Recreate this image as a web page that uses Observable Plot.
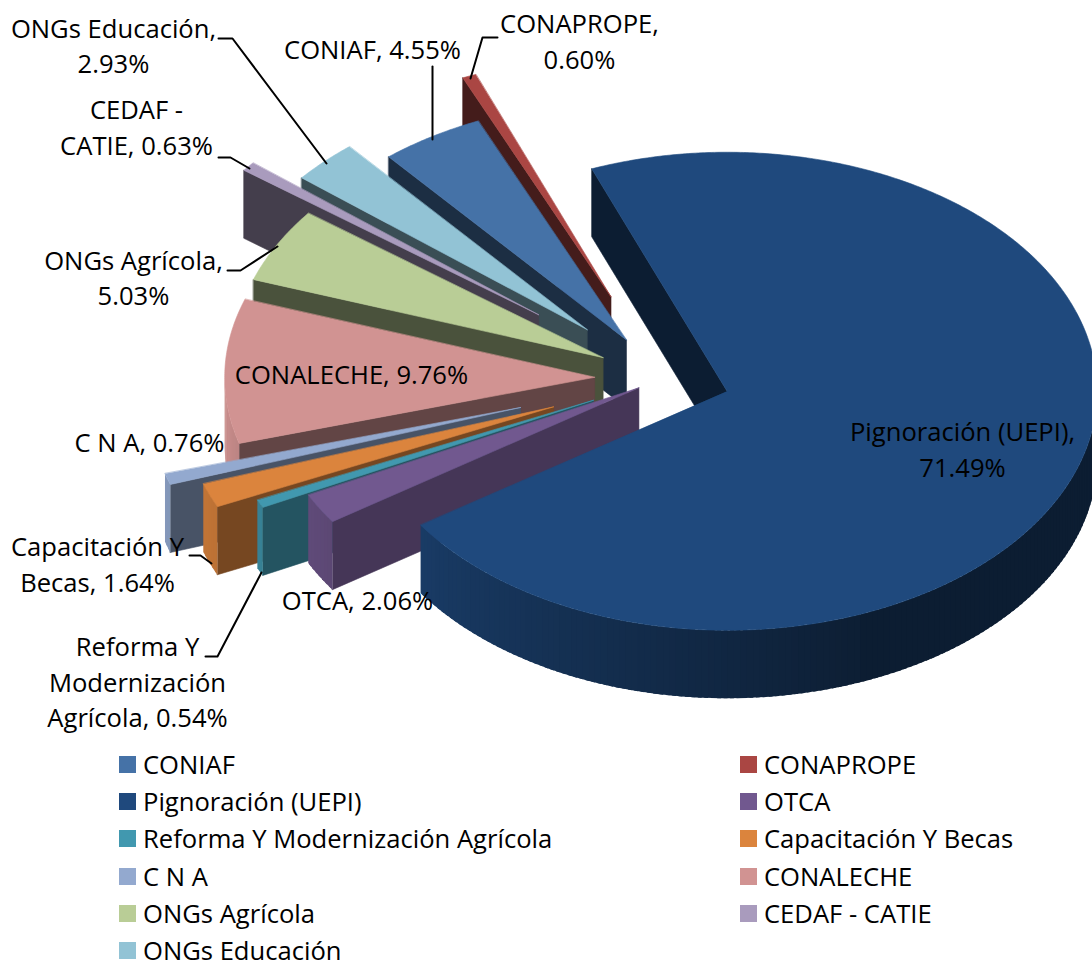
<!DOCTYPE html>
<html>
<head>
<meta charset="utf-8">
<script src="https://cdn.jsdelivr.net/npm/d3@7"></script>
<script src="https://cdn.jsdelivr.net/npm/@observablehq/plot@0.6"></script>
<style>
html,body{margin:0;padding:0;background:#fff;overflow:hidden;width:1092px;height:963px;}
#chart svg{display:block;}
#legend{position:absolute;left:0;top:753px;width:1092px;font-family:"Open Sans",sans-serif;font-size:25.6px;line-height:23px;color:#000;}
.row{position:absolute;display:flex;align-items:center;height:23px;white-space:nowrap;}
.sw{width:17px;height:17px;display:inline-block;margin-right:7px;}
</style>
</head>
<body>
<div id="chart"></div>
<div id="legend"></div>
<script>
// ---- data (clockwise order of the slices) ----
const names = ["CONIAF","CONAPROPE","Pignoración (UEPI)","OTCA","Reforma Y Modernización Agrícola","Capacitación Y Becas","C N A","CONALECHE","ONGs Agrícola","CEDAF - CATIE","ONGs Educación"];
const shares = [4.55,0.60,71.49,2.06,0.54,1.64,0.76,9.76,5.03,0.63,2.93];
const colors = ["#4572a7","#aa4643","#1f497d","#71588f","#4198af","#db843d","#93a9cf","#d19392","#b9cd96","#a99bbd","#92c3d5"];
const explosion = [0.19,0.37,0.18,0.077,0.21,0.32,0.405,0.186,0.185,0.43,0.29];
const paintOrder = [1,0,10,9,8,7,6,5,4,3,2];

// ---- labels ----
const labelTexts = ["ONGs Educación,\n2.93%","CONIAF, 4.55%","CONAPROPE,\n0.60%","CEDAF -\nCATIE, 0.63%","ONGs Agrícola,\n5.03%","CONALECHE, 9.76%","C N A, 0.76%","Pignoración (UEPI),\n71.49%","Capacitación Y\nBecas, 1.64%","OTCA, 2.06%","Reforma Y\nModernización\nAgrícola, 0.54%"];
const labelX = [113,372,579,136,133,351,149,962,97,357,137];
const labelY = [43.5,47,39,125,275.5,372,440,447,562,598,680];
const leaders = [
  [[218,38],[232,38],[326,163]],
  [[432,66],[432,139]],
  [[497,37],[482,37],[470,78]],
  [[218,157],[230,157],[249,168]],
  [[227,270],[240,270],[277,246]],
  [[189,555],[200,555],[211,563]],
  [[205,656],[217,656],[261,572]]
];

// ---- pie geometry settings ----
const W = 1092, H = 745;
const center = [663,378], rx = 370, ry = 239, depth = 68, startAngle = 320;
const rad = d => d * Math.PI / 180;
const total = d3.sum(shares);

let acc = startAngle;
const slices = shares.map((v,i) => {
  const t0 = acc, t1 = acc + 360 * v / total; acc = t1;
  const mid = rad((t0+t1)/2);
  const tip = [center[0] + explosion[i]*rx*Math.sin(mid), center[1] - explosion[i]*ry*Math.cos(mid)];
  return {i,t0,t1,tip,color:colors[i]};
});
const on = (s,t,dy=0) => ({x:s.tip[0]+rx*Math.sin(rad(t)), y:s.tip[1]-ry*Math.cos(rad(t))+dy});
const shade = (c,f) => { const r = d3.rgb(c); return d3.rgb(r.r*f,r.g*f,r.b*f).formatHex(); };
const norm = t => ((t%360)+360)%360;

const polys = [];
let pid = 0;
function add(pts,fill,sw){ const id = pid++; pts.forEach(p => polys.push({id,x:p.x,y:p.y,fill,sw})); }

for (const k of paintOrder) {
  const s = slices[k];
  // radial wall on the leading edge
  const n0 = norm(s.t0);
  if (n0 > 180) {
    const f = n0 > 263 ? 0.40 : 0.40 + (263-n0)*0.0078;
    add([on(s,s.t0),{x:s.tip[0],y:s.tip[1]},{x:s.tip[0],y:s.tip[1]+depth},on(s,s.t0,depth)], shade(s.color,f), 0.6);
  }
  // rim wall, only where it faces the viewer: overlapping strips, each covered by the next
  const step = 1;
  const segs = [];
  for (let t = s.t0; t < s.t1; t += step) {
    const e = Math.min(t+step,s.t1), m = norm((t+e)/2);
    if (m < 90 || m > 270) continue;
    segs.push({t,e,f: m < 160 ? 0.40 : 0.42 + (m-160)/110*0.56});
  }
  segs.forEach(g => {
    const end = Math.max(g.t - 0.6, s.t0);
    add([on(s,g.e),on(s,end),on(s,end,depth),on(s,g.e,depth)], shade(s.color,g.f), 0);
  });
  // top face
  const top = [{x:s.tip[0],y:s.tip[1]}];
  for (let t = s.t0; t < s.t1; t += 0.5) top.push(on(s,t));
  top.push(on(s,s.t1));
  add(top, s.color, 0.6);
}

const labelRows = labelTexts.map((t,i) => ({t,x:labelX[i],y:labelY[i]}));
const leaderRows = leaders.flatMap((pts,id) => pts.map(([x,y]) => ({id,x,y})));

const plot = Plot.plot({
  width: W, height: H,
  margin: 0,
  x: {domain:[0,W], range:[0,W], axis:null},
  y: {domain:[0,H], range:[0,H], axis:null},
  color: {type:"identity"},
  style: {background:"#fff"},
  marks: [
    Plot.line(polys,{x:"x",y:"y",z:"id",fill:d=>d.fill,stroke:d=>d.fill,strokeWidth:d=>d.sw,curve:"linear-closed"}),
    Plot.line(leaderRows,{x:"x",y:"y",z:"id",stroke:"#000",strokeWidth:2,curve:"linear"}),
    Plot.text(labelRows,{x:"x",y:"y",text:"t",fontFamily:"'Open Sans', sans-serif",fontSize:25.6,lineHeight:1.39,fill:"#000",textAnchor:"middle"})
  ]
});
document.getElementById("chart").appendChild(plot);

// ---- legend, two columns, filled row by row ----
const legend = document.getElementById("legend");
const rowH = 37.2;
names.forEach((n,i) => {
  const d = document.createElement("div");
  d.className = "row";
  d.style.left = (i%2 ? 740 : 119) + "px";
  d.style.top = (Math.floor(i/2)*rowH) + "px";
  d.innerHTML = `<span class="sw" style="background:${colors[i]}"></span><span>${n}</span>`;
  legend.appendChild(d);
});
</script>
</body>
</html>
